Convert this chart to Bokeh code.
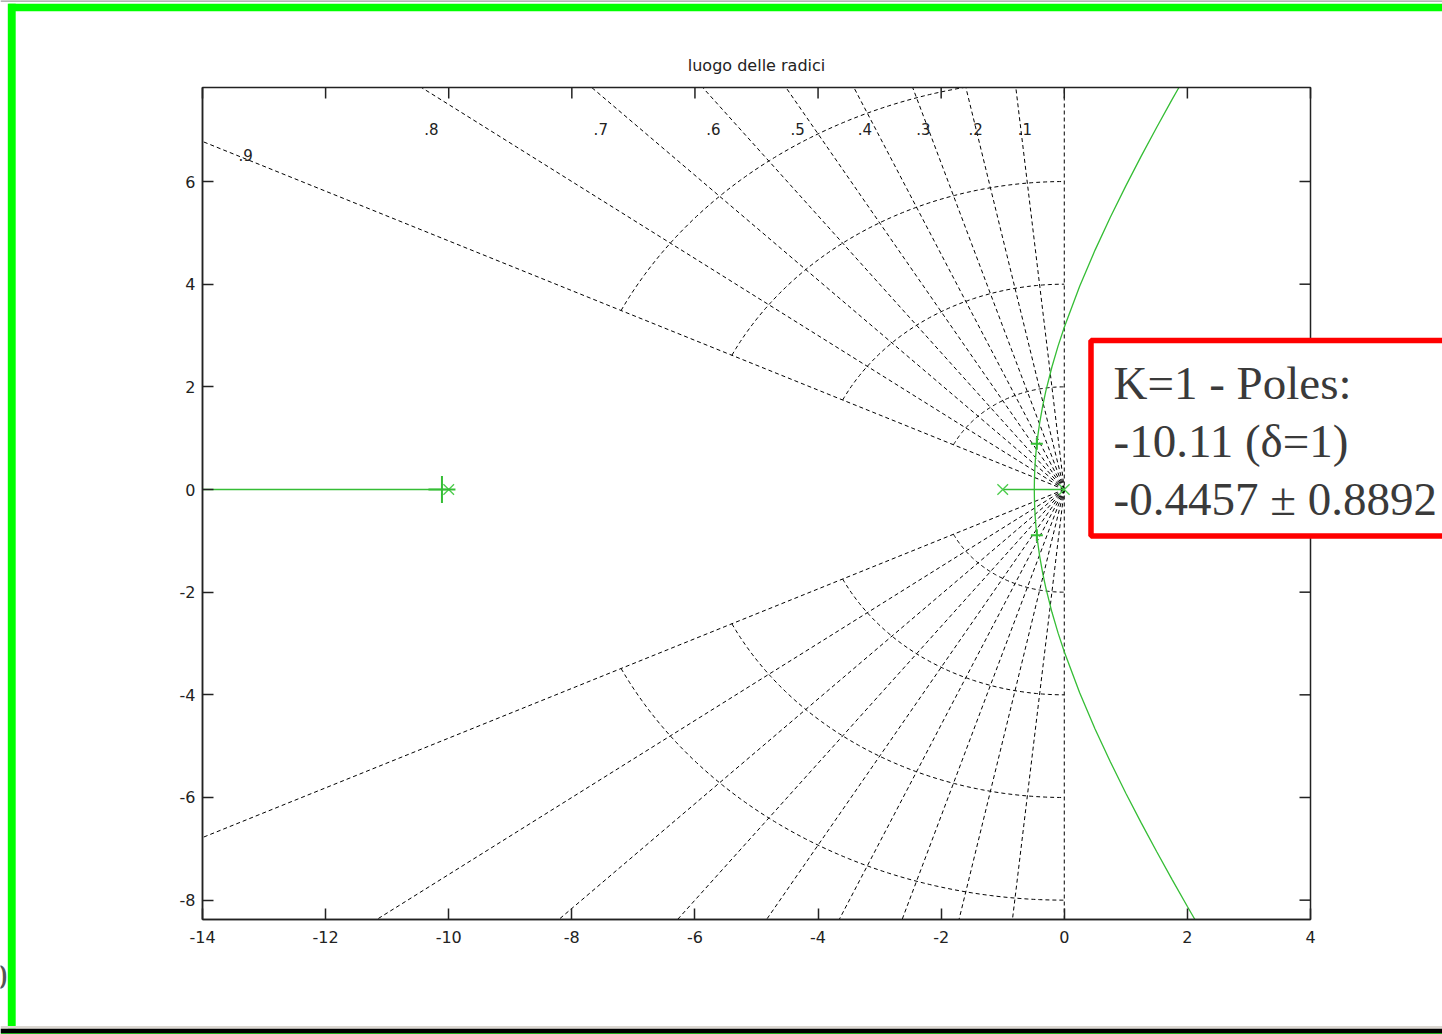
import numpy as np
from bokeh.plotting import figure
from bokeh.models import Range1d, FixedTicker, Label
from bokeh.embed import file_html
from bokeh.resources import INLINE

# Loop transfer function 10 / (s (s+1) (s+10)); root locus in the s-plane.
open_loop_poles_re = [-10.0, -1.0, 0.0]
open_loop_poles_im = [0.0, 0.0, 0.0]

# Closed-loop poles at K = 1
closed_loop_re = [-10.11, -0.4457, -0.4457]
closed_loop_im = [0.0, 0.8892, -0.8892]

# Complex-conjugate branch (upper half; the lower one is its mirror)
branch_re = [-0.487, -0.485, -0.48, -0.47, -0.46, -0.4457, -0.43, -0.40, -0.35,
             -0.30, -0.20, -0.10, 0.0, 0.25, 0.50, 0.75, 1.0, 1.25, 1.5, 1.75,
             2.0, 2.25]
branch_im = [0.0, 0.189, 0.362, 0.568, 0.718, 0.8892, 1.046, 1.296, 1.633,
             1.916, 2.392, 2.798, 3.162, 3.961, 4.664, 5.309, 5.916, 6.495,
             7.053, 7.595, 8.124, 8.642]

# Real-axis parts of the locus
real_branch_far = [-14.0, -10.0]
real_branch_near = [-1.0, 0.0]

# s-plane grid: damping ratios and natural frequencies
zeta_values = [0.1, 0.2, 0.3, 0.4, 0.5, 0.6, 0.7, 0.8, 0.9]
zeta_text = [".1", ".2", ".3", ".4", ".5", ".6", ".7", ".8", ".9"]
wn_values = [2, 4, 6, 8]

x_ticks = [-14, -12, -10, -8, -6, -4, -2, 0, 2, 4]
y_ticks = [-8, -6, -4, -2, 0, 2, 4, 6]

# axes box limits
XMIN, XMAX = -14.0, 4.0
YMIN, YMAX = -8.377, 7.832

W, H = 1442, 1034
FL, FR, FT, FB = 202, 1310, 87, 919   # edges of the axes box on the page
PX_PER_X = (FR - FL) / (XMAX - XMIN)
PX_PER_Y = (FB - FT) / (YMAX - YMIN)


def px_x(px):
    return XMIN + (px - FL) / PX_PER_X


def px_y(py):
    return YMAX - (py - FT) / PX_PER_Y


def clip_segment(ax, ay, bx, by):
    """Liang-Barsky clipping of one segment against the axes box."""
    t0, t1 = 0.0, 1.0
    dx, dy = bx - ax, by - ay
    for pk, qk in ((-dx, ax - XMIN), (dx, XMAX - ax), (-dy, ay - YMIN), (dy, YMAX - ay)):
        if pk == 0:
            if qk < 0:
                return None
        else:
            r = qk / pk
            if pk < 0:
                if r > t1:
                    return None
                t0 = max(t0, r)
            else:
                if r < t0:
                    return None
                t1 = min(t1, r)
    return ax + t0 * dx, ay + t0 * dy, ax + t1 * dx, ay + t1 * dy


def clip_polyline(xs, ys):
    pieces, cx, cy = [], [], []
    for i in range(len(xs) - 1):
        seg = clip_segment(xs[i], ys[i], xs[i + 1], ys[i + 1])
        if seg is None:
            if cx:
                pieces.append((cx, cy))
                cx, cy = [], []
            continue
        sx0, sy0, sx1, sy1 = seg
        if not cx or abs(cx[-1] - sx0) > 1e-9 or abs(cy[-1] - sy0) > 1e-9:
            if cx:
                pieces.append((cx, cy))
            cx, cy = [sx0], [sy0]
        cx.append(sx1)
        cy.append(sy1)
    if cx:
        pieces.append((cx, cy))
    return pieces


def clipped_multi(lines):
    out_x, out_y = [], []
    for xs, ys in lines:
        for px_, py_ in clip_polyline(list(xs), list(ys)):
            out_x.append(px_)
            out_y.append(py_)
    return out_x, out_y


LOCUS = "#35bd35"
MARK = "#4ccc4c"
INK = "#222222"
SANS = "DejaVu Sans"

# the frame spans the whole page; the axes box is drawn inside it
p = figure(width=W, height=H,
           x_range=Range1d(px_x(0), px_x(W)), y_range=Range1d(px_y(H), px_y(0)),
           output_backend="svg", toolbar_location=None,
           min_border_left=0, min_border_right=0, min_border_top=0, min_border_bottom=0)
p.grid.visible = False
p.background_fill_color = "white"
p.border_fill_color = "white"
p.outline_line_color = None

xa, ya = p.xaxis[0], p.yaxis[0]
xa.fixed_location = YMIN
ya.fixed_location = XMIN
xa.bounds = (XMIN, XMAX)
ya.bounds = (YMIN, YMAX)
xa.ticker = FixedTicker(ticks=x_ticks)
ya.ticker = FixedTicker(ticks=y_ticks)
xa.major_label_overrides = {t: str(t) for t in x_ticks}
ya.major_label_overrides = {t: str(t) for t in y_ticks}
for ax, standoff in ((xa, 11), (ya, 7)):
    ax.major_tick_in = 11
    ax.major_tick_out = 0
    ax.minor_tick_in = 0
    ax.minor_tick_out = 0
    ax.axis_line_color = INK
    ax.axis_line_width = 1.5
    ax.major_tick_line_color = INK
    ax.major_tick_line_width = 1.5
    ax.major_label_standoff = standoff
    ax.major_label_text_font = SANS
    ax.major_label_text_font_size = "16px"
    ax.major_label_text_color = INK

# damping-ratio rays and the imaginary axis
GRID_DASH = "4 3"
rays = []
for z in zeta_values:
    dx, dy = -z, np.sqrt(1 - z * z)
    rays.append(([0, 40 * dx], [0, 40 * dy]))
    rays.append(([0, 40 * dx], [0, -40 * dy]))
rays.append(([0, 0], [YMIN, YMAX]))
rx, ry = clipped_multi(rays)
p.multi_line(rx, ry, line_color="black", line_width=1, line_dash=GRID_DASH)

# natural-frequency arcs between zeta = 0.9 and zeta = 0
theta = np.linspace(np.arccos(zeta_values[-1]), np.pi / 2, 90)
arcs = []
for wn in wn_values:
    arcs.append((-wn * np.cos(theta), wn * np.sin(theta)))
    arcs.append((-wn * np.cos(theta), -wn * np.sin(theta)))
axs, ays = clipped_multi(arcs)
p.multi_line(axs, ays, line_color="black", line_width=1, line_dash=GRID_DASH)

# damping labels
zeta_label_x = [-0.64, -1.44, -2.29, -3.24, -4.33, -5.70, -7.53, -10.28, -13.30]
zeta_label_y = [7.03, 7.03, 7.03, 7.03, 7.03, 7.03, 7.03, 7.03, 6.51]
p.text(x=zeta_label_x, y=zeta_label_y, text=zeta_text, text_font_size="15px",
       text_align="center", text_baseline="middle", text_color=INK, text_font={"value": SANS})

# root locus
locus = [
    (real_branch_far, [0, 0]),
    (real_branch_near, [0, 0]),
    (branch_re, branch_im),
    (branch_re, [-v for v in branch_im]),
]
lx, ly = clipped_multi(locus)
p.multi_line(lx, ly, line_color=LOCUS, line_width=1.3)

p.scatter(open_loop_poles_re, open_loop_poles_im, marker="x", size=15,
          line_color=MARK, line_width=1.3)
p.scatter(closed_loop_re, closed_loop_im, marker="cross", size=[27, 12, 12],
          line_color=LOCUS, line_width=2)

# axes box with inward ticks on the top and right sides
p.line([XMIN, XMAX, XMAX, XMIN, XMIN], [YMIN, YMIN, YMAX, YMAX, YMIN],
       line_color=INK, line_width=1.5)
tick_dx = 11 / PX_PER_X
tick_dy = 11 / PX_PER_Y
p.segment(x0=x_ticks, y0=[YMAX] * len(x_ticks), x1=x_ticks, y1=[YMAX - tick_dy] * len(x_ticks),
          line_color=INK, line_width=1.5)
p.segment(x0=[XMAX] * len(y_ticks), y0=y_ticks, x1=[XMAX - tick_dx] * len(y_ticks), y1=y_ticks,
          line_color=INK, line_width=1.5)

# title
p.add_layout(Label(x=(XMIN + XMAX) / 2, y=px_y(65), text="luogo delle radici",
                   text_font=SANS, text_font_size="16px", text_color=INK,
                   text_align="center", text_baseline="middle"))

# annotation box with the K = 1 poles
p.quad(left=px_x(1090.5), right=px_x(1700), top=px_y(340), bottom=px_y(535.5),
       fill_color="white", line_color="#ff0000", line_width=5.5)
box_lines = [
    "K=1 - Poles:",
    f"{closed_loop_re[0]:.2f} (\u03b4=1)",
    f"{closed_loop_re[1]:.4f} \u00b1 {closed_loop_im[1]:.4f}",
]
for line, mid in zip(box_lines, (382, 440, 498)):
    p.add_layout(Label(x=px_x(1113), y=px_y(mid), text=line, text_font="Liberation Serif",
                       text_font_size="47px", text_color="#3a3a3a",
                       text_align="left", text_baseline="middle"))

# window frame around the figure
frame_bars = [
    (0, W + 20, -5, 1.2, "#9a9a9a"),
    (8, W + 20, 3.3, 10.8, "#00ff00"),
    (7.3, 15.2, 3.3, 1028.3, "#00ff00"),
    (0, W + 20, 1025.5, 1028.3, "#dcd8d2"),
    (0, W + 20, 1028.3, 1032.5, "#000000"),
    (0, W + 20, 1032.5, 1040, "#1faa1f"),
]
p.quad(left=[px_x(b[0]) for b in frame_bars], right=[px_x(b[1]) for b in frame_bars],
       top=[px_y(b[2]) for b in frame_bars], bottom=[px_y(b[3]) for b in frame_bars],
       fill_color=[b[4] for b in frame_bars], line_color=None)

p.add_layout(Label(x=px_x(7), y=px_y(976), text="0", text_font="Liberation Serif",
                   text_font_size="36px", text_color="#555555",
                   text_align="right", text_baseline="middle"))

open("out.html", "w").write(file_html(p, INLINE))
